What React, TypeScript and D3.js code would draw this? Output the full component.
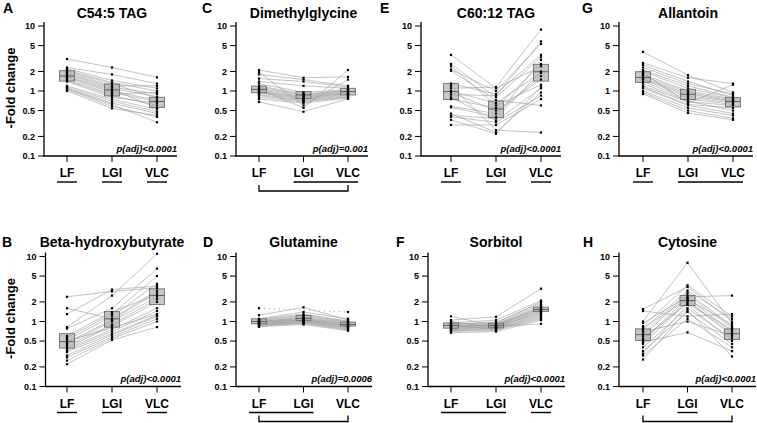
import React from "react";
import * as d3 from "d3";

const GROUPS = ["LF", "LGI", "VLC"];
const Y_TICKS = [10, 5, 2, 1, 0.5, 0.2, 0.1];
const Y_TICK_LABELS = ["10", "5", "2", "1", "0.5", "0.2", "0.1"];

// Panel A: C54:5 TAG
const A_LF = [3.1, 2.3, 2.2, 2.1, 2.0, 1.95, 1.85, 1.8, 1.7, 1.65, 1.6, 1.5, 1.45, 1.4, 1.2, 1.15, 1.1, 1.08, 1.05, 1.0];
const A_LGI = [2.3, 1.8, 1.45, 1.35, 1.3, 1.2, 1.15, 1.1, 1.05, 1.0, 0.95, 0.9, 0.85, 0.8, 0.75, 0.7, 0.65, 0.62, 0.58, 0.54];
const A_VLC = [1.62, 1.3, 1.1, 1.0, 0.78, 1.2, 0.9, 0.82, 0.55, 0.72, 0.68, 0.95, 0.6, 0.65, 0.52, 0.48, 0.45, 0.33, 0.4, 0.42];
const A_BOX = [[1.42, 1.7, 2.05], [0.84, 1.04, 1.28], [0.56, 0.69, 0.8]];

// Panel C: Dimethylglycine
const C_LF = [2.1, 1.95, 1.8, 1.55, 1.4, 1.3, 1.2, 1.15, 1.1, 1.08, 1.05, 1.0, 0.98, 0.95, 0.92, 0.88, 0.85, 0.8, 0.75, 0.68];
const C_LGI = [1.6, 0.6, 1.5, 1.4, 1.2, 0.95, 0.9, 0.88, 0.85, 0.55, 0.82, 0.8, 0.78, 0.76, 0.74, 0.72, 0.7, 0.68, 0.65, 0.48];
const C_VLC = [1.65, 1.5, 1.2, 1.15, 1.1, 1.05, 1.02, 1.0, 0.98, 2.1, 0.96, 0.94, 0.92, 0.9, 0.88, 0.85, 0.82, 0.8, 0.78, 0.76];
const C_BOX = [[0.94, 1.06, 1.19], [0.77, 0.87, 0.98], [0.87, 0.98, 1.1]];

// Panel E: C60:12 TAG
const E_LF = [3.6, 2.6, 2.4, 2.15, 2.05, 1.3, 1.2, 1.1, 1.0, 0.95, 0.88, 0.8, 0.75, 0.58, 0.56, 0.45, 0.42, 0.4, 0.36, 0.3];
const E_LGI = [1.1, 0.8, 0.6, 1.0, 0.72, 0.9, 0.25, 1.15, 0.65, 0.5, 0.85, 0.35, 0.55, 0.45, 0.4, 0.23, 0.38, 0.33, 0.22, 0.3];
const E_VLC = [2.4, 3.3, 1.25, 5.3, 0.6, 3.6, 0.23, 8.8, 1.9, 1.5, 5.8, 1.1, 2.6, 1.7, 3.0, 0.95, 2.0, 0.85, 1.15, 0.75];
const E_BOX = [[0.74, 0.98, 1.31], [0.39, 0.53, 0.7], [1.42, 1.98, 2.57]];

// Panel G: Allantoin
const G_LF = [4.0, 2.7, 2.5, 2.3, 2.1, 2.0, 1.9, 1.8, 1.7, 1.6, 1.55, 1.5, 1.4, 1.3, 1.2, 1.15, 1.1, 1.0, 0.95, 0.9];
const G_LGI = [1.75, 1.6, 1.4, 1.3, 1.2, 1.1, 0.65, 1.0, 0.95, 0.9, 0.85, 0.8, 0.75, 0.7, 0.68, 0.62, 0.6, 0.55, 0.5, 0.46];
const G_VLC = [0.95, 1.3, 0.85, 0.9, 0.8, 0.78, 1.25, 0.75, 0.72, 0.7, 0.68, 0.65, 0.62, 0.5, 0.6, 0.55, 0.45, 0.42, 0.38, 0.36];
const G_BOX = [[1.36, 1.62, 1.98], [0.74, 0.89, 1.06], [0.57, 0.69, 0.79]];

// Panel B: Beta-hydroxybutyrate
const B_LF = [2.4, 1.6, 1.3, 0.82, 0.78, 0.6, 0.56, 0.52, 0.5, 0.48, 0.45, 0.42, 0.4, 0.38, 0.36, 0.34, 0.3, 0.28, 0.25, 0.22];
const B_LGI = [2.9, 1.1, 3.1, 2.5, 1.6, 1.4, 1.3, 1.2, 0.8, 1.05, 1.0, 0.9, 0.85, 0.75, 0.7, 0.65, 0.62, 0.58, 0.55, 0.52];
const B_VLC = [3.3, 3.0, 3.5, 11, 6.5, 2.6, 5.0, 3.8, 1.3, 2.8, 2.4, 2.2, 2.0, 1.6, 1.45, 1.25, 1.2, 1.1, 1.0, 0.82];
const B_BOX = [[0.39, 0.49, 0.65], [0.82, 1.1, 1.42], [1.83, 2.51, 3.18]];

// Panel D: Glutamine (first subject has no LGI value)
const D_LF = [1.6, 1.25, 1.1, 1.08, 1.05, 1.03, 1.01, 1.0, 0.99, 0.97, 0.96, 0.95, 0.93, 0.92, 0.9, 0.89, 0.88, 0.87, 0.85, 0.83];
const D_LGI = [null, 1.65, 1.4, 1.3, 1.25, 1.2, 1.15, 1.12, 1.1, 1.08, 1.06, 1.05, 1.03, 1.01, 1.0, 0.98, 0.96, 0.95, 0.93, 0.9];
const D_VLC = [1.4, 1.05, 1.1, 1.02, 1.0, 0.98, 0.96, 0.94, 0.92, 0.9, 0.88, 0.86, 0.85, 0.84, 0.82, 0.8, 0.78, 0.76, 0.74, 0.72];
const D_BOX = [[0.92, 1.0, 1.1], [1.04, 1.12, 1.24], [0.85, 0.9, 0.98]];

// Panel F: Sorbitol
const F_LF = [1.2, 1.05, 1.0, 0.95, 0.93, 0.9, 0.88, 0.87, 0.86, 0.85, 0.84, 0.82, 0.8, 0.78, 0.76, 0.75, 0.73, 0.72, 0.7, 0.67];
const F_LGI = [0.85, 1.18, 0.8, 1.05, 0.95, 0.98, 0.92, 0.76, 0.9, 0.88, 0.87, 0.86, 0.84, 0.83, 0.82, 0.79, 0.78, 0.75, 0.73, 0.7];
const F_VLC = [1.5, 3.2, 1.45, 2.1, 2.0, 1.9, 1.8, 1.2, 1.7, 1.65, 1.6, 1.55, 0.92, 1.4, 1.35, 1.3, 1.25, 1.15, 1.1, 1.05];
const F_BOX = [[0.79, 0.87, 0.95], [0.8, 0.87, 0.94], [1.42, 1.53, 1.66]];

// Panel H: Cytosine
const H_LF = [1.55, 1.45, 1.0, 0.95, 0.85, 0.8, 0.75, 0.7, 0.65, 0.6, 0.55, 0.52, 0.5, 0.48, 0.45, 0.4, 0.35, 0.32, 0.3, 0.26];
const H_LGI = [3.4, 1.2, 8.0, 2.4, 3.6, 2.2, 3.0, 1.0, 2.8, 2.6, 1.9, 2.3, 2.1, 0.68, 2.0, 1.6, 1.4, 1.8, 1.1, 1.5];
const H_VLC = [1.0, 1.3, 0.95, 2.5, 1.2, 0.9, 1.1, 0.6, 0.85, 0.8, 0.75, 0.7, 0.65, 0.35, 0.62, 0.55, 0.45, 0.5, 0.4, 0.29];
const H_BOX = [[0.51, 0.63, 0.77], [1.76, 2.1, 2.51], [0.53, 0.65, 0.77]];

// Significance annotations: underlines (group index ranges) and brackets
const A_UNDER = [[0, 0], [1, 1], [2, 2]];
const C_UNDER = [[1, 2]];
const E_UNDER = [[0, 0], [1, 1], [2, 2]];
const G_UNDER = [[0, 0], [1, 2]];
const B_UNDER = [[0, 0], [1, 1], [2, 2]];
const D_UNDER = [[0, 1]];
const F_UNDER = [[0, 1], [2, 2]];
const H_UNDER = [[1, 1]];

const panels = [
  { letter: "A", title: "C54:5 TAG", data: [A_LF, A_LGI, A_VLC], box: A_BOX, p: "p(adj)<0.0001", under: A_UNDER, bracket: false, row: 0, ax: 44, x0: 67, x1: 157, lx: 3, ylabel: true },
  { letter: "C", title: "Dimethylglycine", data: [C_LF, C_LGI, C_VLC], box: C_BOX, p: "p(adj)=0.001", under: C_UNDER, bracket: true, row: 0, ax: 236, x0: 259, x1: 348, lx: 202 },
  { letter: "E", title: "C60:12 TAG", data: [E_LF, E_LGI, E_VLC], box: E_BOX, p: "p(adj)<0.0001", under: E_UNDER, bracket: false, row: 0, ax: 421, x0: 451, x1: 541, lx: 380 },
  { letter: "G", title: "Allantoin", data: [G_LF, G_LGI, G_VLC], box: G_BOX, p: "p(adj)<0.0001", under: G_UNDER, bracket: false, row: 0, ax: 619, x0: 643, x1: 733, lx: 582 },
  { letter: "B", title: "Beta-hydroxybutyrate", data: [B_LF, B_LGI, B_VLC], box: B_BOX, p: "p(adj)<0.0001", under: B_UNDER, bracket: false, row: 1, ax: 45.5, x0: 67, x1: 157, lx: 2, ylabel: true },
  { letter: "D", title: "Glutamine", data: [D_LF, D_LGI, D_VLC], box: D_BOX, p: "p(adj)=0.0006", under: D_UNDER, bracket: true, row: 1, ax: 236, x0: 259, x1: 348, lx: 203 },
  { letter: "F", title: "Sorbitol", data: [F_LF, F_LGI, F_VLC], box: F_BOX, p: "p(adj)<0.0001", under: F_UNDER, bracket: false, row: 1, ax: 428, x0: 451, x1: 541, lx: 396 },
  { letter: "H", title: "Cytosine", data: [H_LF, H_LGI, H_VLC], box: H_BOX, p: "p(adj)<0.0001", under: H_UNDER, bracket: true, row: 1, ax: 619, x0: 643, x1: 732, lx: 583 },
];

const FONT = "'Liberation Sans', Arial, Helvetica, sans-serif";
const ROW_TOP = [26, 256.5];
const ROW_BOT = [156, 386.5];

function Panel({ p }: { p: any }) {
  const y = d3.scaleLog().domain([0.1, 10]).range([ROW_BOT[p.row], ROW_TOP[p.row]]);
  const x = d3.scaleLinear().domain([0, 2]).range([p.x0, p.x1]);
  const yb = ROW_BOT[p.row];
  const axisEnd = p.x1 + (p.row === 0 ? 20 : 24);
  const n = p.data[0].length;
  const subjects = d3.range(n);
  const line = d3
    .line<[number, number]>()
    .x((d) => d[0])
    .y((d) => d[1]);

  return (
    <g>
      <text x={p.lx} y={p.row === 0 ? 13 : 247} fontFamily={FONT} fontWeight="bold" fontSize={14}>
        {p.letter}
      </text>
      <text x={x(1)} y={p.row === 0 ? 18 : 247} textAnchor="middle" fontFamily={FONT} fontWeight="bold" fontSize={14}>
        {p.title}
      </text>
      {p.ylabel && (
        <text
          transform={`translate(15,${(ROW_TOP[p.row] + ROW_BOT[p.row]) / 2 - 3}) rotate(-90)`}
          textAnchor="middle"
          fontFamily={FONT}
          fontWeight="bold"
          fontSize={13}
        >
          -Fold change
        </text>
      )}
      {/* subject lines */}
      {subjects.map((i) => {
        const vals = p.data.map((arr: any[]) => arr[i]);
        if (vals[1] == null) {
          return (
            <path
              key={"l" + i}
              d={line([[x(0), y(vals[0])], [x(2), y(vals[2])]]) || ""}
              fill="none"
              stroke="#888"
              strokeWidth={0.8}
              strokeDasharray="1,4"
            />
          );
        }
        const pts: [number, number][] = vals.map((v: number, g: number) => [x(g), y(v)]);
        return <path key={"l" + i} d={line(pts) || ""} fill="none" stroke="#9a9a9a" strokeWidth={0.6} />;
      })}
      {/* boxes */}
      {p.box.map((b: number[], g: number) => (
        <g key={"b" + g}>
          <rect
            x={x(g) - 7.5}
            y={y(b[2])}
            width={15}
            height={y(b[0]) - y(b[2])}
            fill="#b4b4b4"
            fillOpacity={0.75}
            stroke="#707070"
            strokeWidth={0.9}
          />
          <line x1={x(g) - 7.5} x2={x(g) + 7.5} y1={y(b[1])} y2={y(b[1])} stroke="#555" strokeWidth={0.9} />
        </g>
      ))}
      {/* points */}
      {p.data.map((arr: any[], g: number) =>
        arr.map((v: any, i: number) =>
          v == null ? null : <rect key={`p${g}-${i}`} x={x(g) - 1.1} y={y(v) - 1.1} width={2.2} height={2.2} fill="#000" />
        )
      )}
      {/* axes */}
      <line x1={p.ax} x2={p.ax} y1={ROW_TOP[p.row] - 4} y2={yb} stroke="#000" strokeWidth={1.3} />
      <line x1={p.ax - 0.6} x2={axisEnd} y1={yb} y2={yb} stroke="#000" strokeWidth={1.3} />
      {Y_TICKS.map((t, k) => (
        <g key={"t" + k}>
          <line x1={p.ax - 6} x2={p.ax} y1={y(t)} y2={y(t)} stroke="#000" strokeWidth={1} />
          <text x={p.ax - 9} y={y(t) + 3.2} textAnchor="end" fontFamily={FONT} fontWeight="bold" fontSize={9}>
            {Y_TICK_LABELS[k]}
          </text>
        </g>
      ))}
      {GROUPS.map((gname, g) => (
        <g key={"x" + g}>
          <line x1={x(g)} x2={x(g)} y1={yb} y2={yb + 6} stroke="#000" strokeWidth={1} />
          <text x={x(g)} y={yb + 21} textAnchor="middle" fontFamily={FONT} fontWeight="bold" fontSize={12}>
            {gname}
          </text>
        </g>
      ))}
      <text x={axisEnd} y={yb - 4.5} textAnchor="end" fontFamily={FONT} fontWeight="bold" fontStyle="italic" fontSize={9.5}>
        {p.p}
      </text>
      {p.under.map((u: number[], k: number) => (
        <line key={"u" + k} x1={x(u[0]) - 10} x2={x(u[1]) + 10} y1={yb + 26} y2={yb + 26} stroke="#000" strokeWidth={1.4} />
      ))}
      {p.bracket && (
        <path
          d={`M${x(0)},${yb + 29}V${yb + 35}H${x(2)}V${yb + 29}`}
          fill="none"
          stroke="#000"
          strokeWidth={1.3}
        />
      )}
    </g>
  );
}

export default function App() {
  return (
    <div style={{ position: "fixed", left: 0, top: 0 }}>
      <svg width={757} height={423} style={{ display: "block", background: "#fff" }}>
        {panels.map((p) => (
          <Panel key={p.letter} p={p} />
        ))}
      </svg>
    </div>
  );
}
